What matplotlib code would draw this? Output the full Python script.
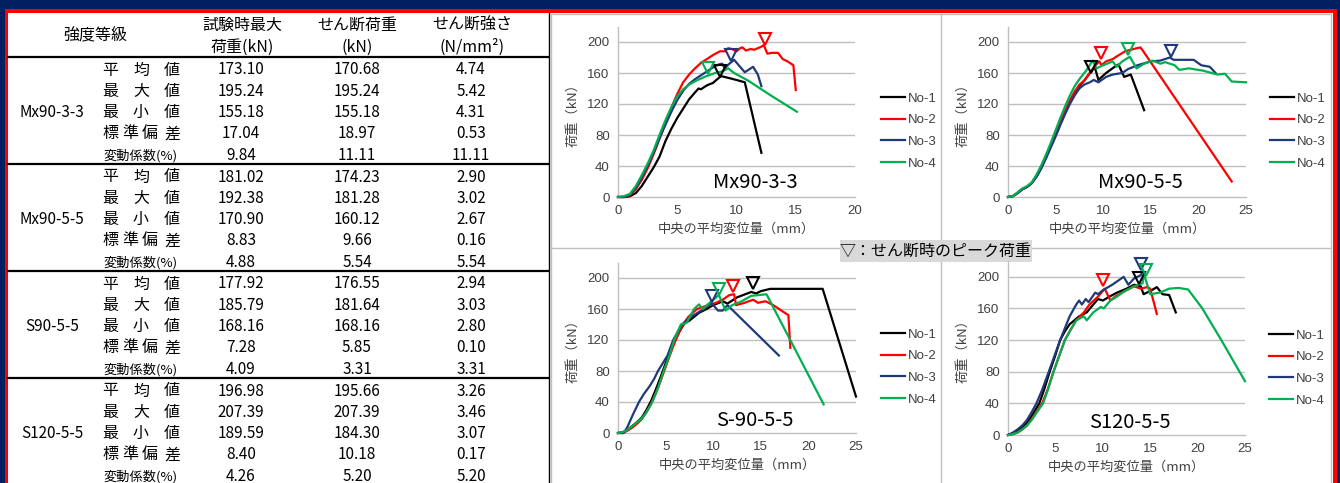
import matplotlib
matplotlib.use("Agg")
import matplotlib.pyplot as plt
from matplotlib.lines import Line2D
from matplotlib.patches import Rectangle

plt.rcParams['font.family'] = ['Noto Sans CJK JP', 'DejaVu Sans']

# ---------------- table data ----------------
grades = ["Mx90-3-3", "Mx90-5-5", "S90-5-5", "S120-5-5"]
stat_labels = ["平均値", "最大値", "最小値", "標準偏差", "変動係数(%)"]
max_load = [["173.10", "195.24", "155.18", "17.04", "9.84"],
            ["181.02", "192.38", "170.90", "8.83", "4.88"],
            ["177.92", "185.79", "168.16", "7.28", "4.09"],
            ["196.98", "207.39", "189.59", "8.40", "4.26"]]
shear_load = [["170.68", "195.24", "155.18", "18.97", "11.11"],
              ["174.23", "181.28", "160.12", "9.66", "5.54"],
              ["176.55", "181.64", "168.16", "5.85", "3.31"],
              ["195.66", "207.39", "184.30", "10.18", "5.20"]]
shear_strength = [["4.74", "5.42", "4.31", "0.53", "11.11"],
                  ["2.90", "3.02", "2.67", "0.16", "5.54"],
                  ["2.94", "3.03", "2.80", "0.10", "3.31"],
                  ["3.26", "3.46", "3.07", "0.17", "5.20"]]

# ---------------- chart data ----------------
series_names = ["No-1", "No-2", "No-3", "No-4"]

mx33_no1_x = [0, 0.6, 1.0, 1.5, 2.0, 2.5, 3.0, 3.5, 4.0, 4.5, 5.0, 5.5, 6.0, 6.5, 6.8, 7.0, 7.5, 7.8, 8.0, 8.3, 8.7, 9.5, 10.0, 10.7, 12.1]
mx33_no1_y = [0, 0, 1, 5, 14, 26, 38, 52, 72, 88, 102, 114, 126, 135, 140, 139, 144, 146, 147, 151, 156, 153, 151, 148, 57]
mx33_no2_x = [0, 0.5, 1.0, 1.5, 2.0, 2.5, 3.0, 3.5, 4.0, 4.5, 5.0, 5.5, 6.0, 6.5, 7.0, 7.5, 8.0, 8.6, 9.0, 9.3, 9.6, 10.0, 10.3, 10.5, 10.8, 11.2, 11.5, 12.1, 12.3, 12.6, 13.0, 13.5, 13.9, 14.3, 14.8, 15.0]
mx33_no2_y = [0, 0, 2, 10, 22, 37, 55, 75, 95, 115, 133, 148, 158, 166, 173, 178, 183, 188, 188, 192, 191, 188, 192, 193, 189, 191, 190, 194, 196, 185, 186, 186, 178, 175, 170, 138]
mx33_no3_x = [0, 0.5, 1.0, 1.5, 2.0, 2.5, 3.0, 3.5, 4.0, 4.5, 5.0, 5.5, 6.0, 6.5, 7.0, 7.5, 8.0, 8.5, 8.8, 9.0, 9.4, 9.8, 10.3, 10.7, 11.0, 11.4, 11.8, 12.1]
mx33_no3_y = [0, 0, 3, 12, 25, 40, 57, 76, 93, 110, 125, 137, 146, 152, 157, 162, 167, 171, 172, 166, 172, 177, 168, 161, 164, 168, 158, 143]
mx33_no4_x = [0, 0.5, 1.0, 1.5, 2.0, 2.5, 3.0, 3.5, 4.0, 4.5, 5.0, 5.5, 6.0, 6.6, 7.3, 8.2, 8.8, 9.3, 9.8, 11.0, 13.0, 15.1]
mx33_no4_y = [0, 1, 4, 14, 28, 43, 60, 80, 99, 116, 130, 139, 145, 150, 155, 160, 162, 166, 160, 150, 130, 110]
mx33_peak_x = [8.6, 12.4, 9.5, 7.6]
mx33_peak_y = [163, 204, 183, 166]

mx55_no1_x = [0, 0.5, 1, 1.5, 2, 2.5, 3, 3.5, 4, 4.5, 5, 5.5, 6, 6.5, 7, 7.5, 8, 8.6, 9.1, 9.5, 10.3, 11.2, 11.6, 12.2, 12.9, 14.3]
mx55_no1_y = [0, 1, 5, 10, 13, 18, 27, 38, 52, 66, 80, 95, 110, 124, 135, 143, 150, 160, 168, 151, 160, 168, 171, 155, 158, 112]
mx55_no2_x = [0, 0.5, 1, 1.5, 2, 2.5, 3, 3.5, 4, 4.5, 5, 5.5, 6, 6.5, 7, 7.5, 8, 8.6, 9.2, 9.6, 9.8, 10.3, 11.0, 11.5, 12.3, 13.2, 13.9, 14.1, 23.5]
mx55_no2_y = [0, 1, 5, 10, 13, 18, 27, 38, 52, 66, 80, 95, 110, 124, 136, 145, 150, 160, 170, 175, 170, 175, 178, 182, 188, 191, 193, 190, 20]
mx55_no3_x = [0, 0.5, 1, 1.5, 2, 2.5, 3, 3.5, 4, 4.5, 5, 5.5, 6, 6.5, 7, 7.5, 8, 8.6, 9.0, 9.5, 10.3, 11.0, 12.0, 12.6, 13.6, 15.0, 16.0, 17.0, 17.4, 19.5, 20.3, 21.2, 21.8]
mx55_no3_y = [0, 1, 5, 10, 13, 18, 26, 37, 50, 64, 78, 93, 107, 120, 131, 140, 145, 148, 151, 148, 155, 158, 160, 165, 170, 175, 176, 180, 177, 177, 170, 168, 160]
mx55_no4_x = [0, 0.5, 1, 1.5, 2, 2.5, 3, 3.5, 4, 4.5, 5, 5.5, 6, 6.5, 7, 7.5, 8.2, 8.9, 9.3, 10.0, 11.0, 11.4, 12.0, 12.8, 13.5, 14.3, 15.2, 16.0, 16.5, 17.5, 18.0, 19.0, 20.5, 22.0, 22.8, 23.5, 25.0]
mx55_no4_y = [0, 1, 6, 11, 14, 19, 29, 41, 55, 70, 86, 102, 117, 131, 143, 152, 163, 176, 166, 170, 175, 168, 175, 181, 166, 172, 176, 172, 174, 170, 164, 166, 163, 158, 159, 149, 148]
mx55_peak_x = [8.7, 9.8, 17.1, 12.6]
mx55_peak_y = [168, 186, 189, 191]

s90_no1_x = [0, 0.5, 1, 1.5, 2, 2.5, 3, 3.5, 4, 4.5, 5, 5.5, 6, 6.5, 7, 7.5, 8, 8.5, 9.3, 10, 11, 11.5, 12.5, 14, 14.5, 15, 16, 21.5, 25]
s90_no1_y = [0, 1, 4, 9, 14, 20, 30, 42, 57, 73, 90, 106, 120, 132, 142, 145, 150, 155, 160, 165, 170, 167, 175, 182, 180, 183, 186, 186, 47]
s90_no2_x = [0, 0.5, 1, 1.5, 2, 2.5, 3, 3.5, 4, 4.5, 5, 5.5, 6, 6.5, 7, 7.4, 8.3, 9.5, 10.3, 11, 11.7, 12.2, 12.4, 13.3, 14.2, 14.7, 15.5, 16.3, 17.9, 18.1]
s90_no2_y = [0, 0, 3, 7, 12, 18, 27, 38, 52, 68, 85, 102, 118, 132, 143, 150, 160, 165, 168, 172, 178, 179, 165, 168, 172, 168, 170, 165, 152, 110]
s90_no3_x = [0, 0.6, 1, 1.5, 2.2, 2.7, 3.3, 3.8, 4.2, 4.7, 5.2, 5.8, 6.7, 7.7, 9.0, 9.8, 10.5, 11.0, 11.5, 16.9]
s90_no3_y = [0, 0, 8, 22, 40, 50, 60, 70, 80, 90, 100, 120, 140, 150, 160, 168, 158, 158, 165, 100]
s90_no4_x = [0, 0.5, 1, 1.5, 2, 2.5, 3, 3.6, 4.2, 4.8, 5.4, 5.9, 6.6, 7.2, 8.0, 8.5, 8.9, 9.8, 10.6, 11.3, 12, 13, 14, 15.6, 21.6]
s90_no4_y = [0, 1, 4, 9, 14, 19, 27, 40, 58, 80, 100, 120, 140, 142, 160, 166, 160, 170, 178, 158, 165, 170, 177, 179, 37]
s90_peak_x = [14.2, 12.1, 9.9, 10.6]
s90_peak_y = [193, 190, 177, 186]

s120_no1_x = [0, 0.5, 1, 1.5, 2, 2.5, 3, 3.3, 3.8, 4.4, 5.0, 5.5, 6.0, 6.5, 7.5, 8.3, 9.0, 9.5, 10.0, 10.7, 11.5, 12.5, 13.3, 14.0, 14.3, 15.0, 15.7, 16.3, 17.0, 17.7]
s120_no1_y = [0, 2, 5, 10, 15, 24, 34, 40, 57, 80, 101, 120, 131, 140, 150, 155, 165, 172, 170, 175, 180, 185, 190, 188, 178, 182, 187, 178, 177, 155]
s120_no2_x = [0, 0.5, 1, 1.5, 2, 2.5, 3, 3.6, 4.2, 4.8, 5.4, 6.0, 6.6, 7.2, 8.0, 8.6, 9.5, 10.2, 10.8, 11.3, 12.5, 13.3, 14.0, 14.7, 15.0, 15.7]
s120_no2_y = [0, 1, 3, 7, 12, 20, 29, 40, 58, 80, 100, 120, 133, 145, 155, 165, 175, 185, 170, 175, 183, 188, 185, 187, 185, 153]
s120_no3_x = [0, 0.5, 1, 1.5, 2, 2.5, 3, 3.6, 4.3, 4.9, 5.5, 6.0, 6.5, 7.2, 7.5, 7.8, 8.2, 8.5, 9.2, 9.5, 10.0, 11.0, 12.2, 12.7, 13.3, 14.0, 14.2]
s120_no3_y = [0, 3, 7, 12, 19, 29, 40, 57, 80, 100, 120, 135, 150, 165, 170, 165, 172, 168, 180, 178, 183, 190, 200, 190, 198, 202, 206]
s120_no4_x = [0, 0.5, 1, 1.5, 2, 2.5, 3, 3.7, 4.2, 4.8, 5.4, 6.0, 6.6, 7.2, 8.0, 8.3, 9.0, 9.8, 10.1, 10.8, 11.5, 12.3, 13.3, 14.2, 14.3, 15.0, 16.0, 17.0, 18.0, 19.0, 20.5, 22.5, 25.0]
s120_no4_y = [0, 1, 3, 7, 12, 19, 28, 40, 57, 80, 100, 120, 133, 145, 150, 145, 155, 162, 160, 170, 175, 182, 188, 192, 205, 178, 180, 185, 186, 184, 160, 120, 68]
s120_peak_x = [13.8, 10.0, 14.0, 14.6]
s120_peak_y = [199, 196, 216, 208]

chart_titles = ["Mx90-3-3", "Mx90-5-5", "S-90-5-5", "S120-5-5"]
x_label = "中央の平均変位量（mm）"
y_label = "荷重（kN）"
peak_note = "▽：せん断時のピーク荷重"

# ---------------- styling ----------------
W, H = 1340, 483
NAVY = "#002060"
RED = "#ff0000"
colors = ["#000000", "#ff0000", "#1f3a7a", "#00b050"]
GRID = "#bfbfbf"

fig = plt.figure(figsize=(W / 100, H / 100), dpi=100)
fig.patch.set_facecolor(NAVY)


def fx(x):
    return x / W


def fy(y):
    return 1 - y / H


def rect(x0, y0, x1, y1, color, z=0):
    fig.add_artist(Rectangle((fx(x0), fy(y1)), fx(x1) - fx(x0), fy(y0) - fy(y1),
                             transform=fig.transFigure, facecolor=color,
                             edgecolor="none", zorder=z))


def hline(y, x0, x1, color, lw):
    fig.add_artist(Line2D([fx(x0), fx(x1)], [fy(y), fy(y)], transform=fig.transFigure,
                          color=color, lw=lw, zorder=2))


def vline(x, y0, y1, color, lw):
    fig.add_artist(Line2D([fx(x), fx(x)], [fy(y0), fy(y1)], transform=fig.transFigure,
                          color=color, lw=lw, zorder=2))


def txt(x, y, s, size, ha="center", **kw):
    fig.text(fx(x), fy(y), s, fontsize=size, ha=ha, va="center", color="black", **kw)


# frame
rect(5, 9, 1337, 490, RED, 0)
rect(8, 13, 1333, 490, "white", 1)

# ---------------- table ----------------
hline(57, 8, 548, "black", 1.6)
for g in range(1, 4):
    hline(57 + g * 107, 8, 548, "black", 1.6)
vline(548.5, 13, 483, "black", 1.0)

txt(95, 35, "強度等級", 11.5)
txt(242, 25, "試験時最大", 11.5)
txt(242, 47, "荷重(kN)", 11.5)
txt(357, 25, "せん断荷重", 11.5)
txt(357, 47, "(kN)", 11.5)
txt(472, 25, "せん断強さ", 11.5)
txt(472, 47, "(N/mm²)", 11.5)

char_pos3 = [110, 141, 172]
char_pos4 = [110, 130, 150, 172]
for g, grade in enumerate(grades):
    base = 57 + g * 107 + 13
    txt(52, base + 2 * 21.3, grade, 11)
    for r in range(5):
        yy = base + r * 21.3
        lab = stat_labels[r]
        if r < 3:
            for cx, ch in zip(char_pos3, lab):
                txt(cx, yy, ch, 11.5)
        elif r == 3:
            for cx, ch in zip(char_pos4, lab):
                txt(cx, yy, ch, 11.5)
        else:
            txt(103, yy + 1, lab, 9.5, ha="left")
        txt(241, yy, max_load[g][r], 11)
        txt(357, yy, shear_load[g][r], 11)
        txt(471, yy, shear_strength[g][r], 11)

# ---------------- chart area frame ----------------
vline(551, 14, 483, GRID, 1.0)
vline(1331, 14, 483, GRID, 1.0)
hline(14, 551, 1331, GRID, 1.0)
hline(248, 551, 1331, GRID, 1.0)
vline(941, 14, 483, GRID, 1.0)

rect(840, 240, 1032, 262, "#d9d9d9", 3)
fig.text(fx(936), fy(251), peak_note, fontsize=11.5, ha="center", va="center",
         color="black", zorder=4)

charts = [
    dict(pos=(618, 855, 197, 26.5), xmax=20, xt=[0, 5, 10, 15, 20],
         xs=[mx33_no1_x, mx33_no2_x, mx33_no3_x, mx33_no4_x],
         ys=[mx33_no1_y, mx33_no2_y, mx33_no3_y, mx33_no4_y],
         px=mx33_peak_x, py=mx33_peak_y, title=(755, 183), leg=(881, 131)),
    dict(pos=(1008, 1246, 197, 26.5), xmax=25, xt=[0, 5, 10, 15, 20, 25],
         xs=[mx55_no1_x, mx55_no2_x, mx55_no3_x, mx55_no4_x],
         ys=[mx55_no1_y, mx55_no2_y, mx55_no3_y, mx55_no4_y],
         px=mx55_peak_x, py=mx55_peak_y, title=(1140, 183), leg=(1270, 131)),
    dict(pos=(618, 856, 433, 262.5), xmax=25, xt=[0, 5, 10, 15, 20, 25],
         xs=[s90_no1_x, s90_no2_x, s90_no3_x, s90_no4_x],
         ys=[s90_no1_y, s90_no2_y, s90_no3_y, s90_no4_y],
         px=s90_peak_x, py=s90_peak_y, title=(755, 420), leg=(881, 367)),
    dict(pos=(1008, 1245, 435, 261), xmax=25, xt=[0, 5, 10, 15, 20, 25],
         xs=[s120_no1_x, s120_no2_x, s120_no3_x, s120_no4_x],
         ys=[s120_no1_y, s120_no2_y, s120_no3_y, s120_no4_y],
         px=s120_peak_x, py=s120_peak_y, title=(1130, 422), leg=(1269, 368)),
]

for ci, c in enumerate(charts):
    x0, x1, yb, yt = c["pos"]
    ax = fig.add_axes([fx(x0), fy(yb), fx(x1) - fx(x0), fy(yt) - fy(yb)])
    ax.set_facecolor("none")
    ax.set_zorder(5)
    ax.set_xlim(0, c["xmax"])
    ax.set_ylim(0, 220)
    ax.set_xticks(c["xt"])
    ax.set_yticks([0, 40, 80, 120, 160, 200])
    for yv in [40, 80, 120, 160, 200]:
        ax.axhline(yv, color=GRID, lw=1.0, zorder=0)
    for s in ["top", "right"]:
        ax.spines[s].set_visible(False)
    for s in ["left", "bottom"]:
        ax.spines[s].set_color(GRID)
        ax.spines[s].set_linewidth(1.0)
    ax.tick_params(length=0, labelsize=9.5, labelcolor="#404040", pad=6)
    for lab in ax.get_xticklabels() + ax.get_yticklabels():
        lab.set_fontfamily(["Liberation Sans", "DejaVu Sans"])
    ax.set_xlabel(x_label, fontsize=9.5, color="#404040", labelpad=4)
    ax.set_ylabel(y_label, fontsize=9.5, color="#404040", labelpad=6)
    handles = []
    for k in range(4):
        ln, = ax.plot(c["xs"][k], c["ys"][k], color=colors[k], lw=1.6,
                      label=series_names[k], clip_on=False, zorder=3)
        handles.append(ln)
    for k in range(4):
        ax.plot([c["px"][k]], [c["py"][k]], marker="v", ms=8.5, mfc="none",
                mec=colors[k], mew=1.5, ls="none", clip_on=False, zorder=4)
    tx, ty = c["title"]
    fig.text(fx(tx), fy(ty), chart_titles[ci], fontsize=14.5, ha="center",
             va="center", color="black", zorder=6)
    lx, ly = c["leg"]
    leg = ax.legend(handles=handles, loc="center left",
                    bbox_to_anchor=(fx(lx), fy(ly)), bbox_transform=fig.transFigure,
                    frameon=False, fontsize=9.5, handlelength=1.85,
                    handletextpad=0.15, labelspacing=0.72, borderpad=0,
                    borderaxespad=0)
    for t in leg.get_texts():
        t.set_color("#404040")
        t.set_fontfamily(["Liberation Sans", "DejaVu Sans"])

fig.savefig("out.png", dpi=100, facecolor=fig.get_facecolor())
